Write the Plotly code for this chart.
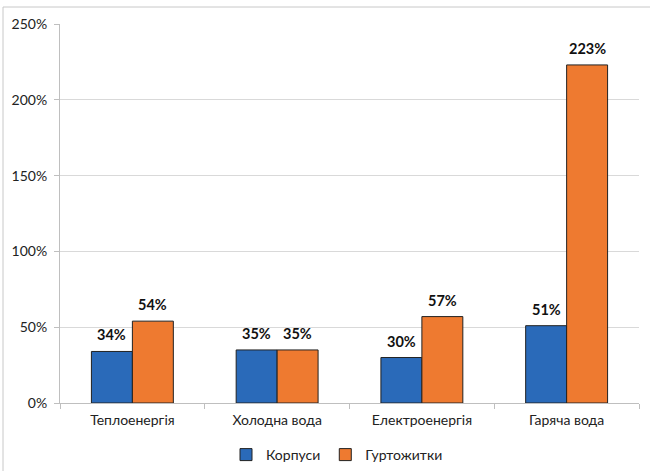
import plotly.graph_objects as go

categories = ["Теплоенергія", "Холодна вода", "Електроенергія", "Гаряча вода"]
korpusy = [34, 35, 30, 51]
hurtozhytky = [54, 35, 57, 223]
series_names = ["Корпуси", "Гуртожитки"]
tick_vals = [0, 50, 100, 150, 200, 250]
tick_text = ["0%", "50%", "100%", "150%", "200%", "250%"]

W, H = 650, 471
L, R, T, B = 60, 11, 24, 68
pw, ph = W - L - R, H - T - B

FONT = "Lato, Open Sans, sans-serif"
BARGAP = 0.434

fig = go.Figure()
colors = ["#2A6AB9", "#EE7A30"]
series = [korpusy, hurtozhytky]
for name, vals, color in zip(series_names, series, colors):
    fig.add_trace(go.Bar(
        x=categories, y=vals, name=name,
        marker=dict(color=color, line=dict(color="#222222", width=1)),
    ))

# data labels above bars
cat_px = pw / len(categories)
bar_px = cat_px * (1 - BARGAP) / 2
for i, vals in enumerate(series):
    off = (i - 0.5) * bar_px
    for c, v in zip(categories, vals):
        fig.add_annotation(x=c, y=v, text=f"<b>{v}%</b>", showarrow=False,
                           xshift=off, yshift=6, yanchor="bottom",
                           font=dict(family=FONT, size=14.5, color="#111111"))

def px_x(px):
    return (px - L) / pw

def px_y(py):
    return (H - B - py) / ph

fig.add_shape(type="rect", xref="paper", yref="paper",
              x0=px_x(3), x1=px_x(700), y0=px_y(520), y1=px_y(7),
              line=dict(color="#C8C8C8", width=1), fillcolor="rgba(0,0,0,0)", layer="below")

fig.update_layout(
    width=W, height=H,
    margin=dict(l=L, r=R, t=T, b=B, autoexpand=False),
    paper_bgcolor="white", plot_bgcolor="white",
    barmode="group", bargap=BARGAP, bargroupgap=0,
    font=dict(family=FONT, size=14, color="#222222"),
    showlegend=True,
    legend=dict(orientation="h", xref="container", yref="container",
                x=226 / W, xanchor="left", y=1 - 455 / H, yanchor="middle",
                font=dict(family=FONT, size=14, color="#222222"), itemwidth=30,
                tracegroupgap=0),
    xaxis=dict(showline=True, linecolor="#BFBFBF", linewidth=1, automargin=False,
               ticks="outside", tickson="boundaries", ticklen=5, tickcolor="#BFBFBF",
               ticklabelstandoff=4,
               tickfont=dict(family=FONT, size=14, color="#222222"), showgrid=False),
    yaxis=dict(range=[0, 250], tickvals=tick_vals, ticktext=tick_text, automargin=False,
               showline=True, linecolor="#BFBFBF", linewidth=1,
               ticks="outside", ticklen=5, tickcolor="#BFBFBF", ticklabelstandoff=4,
               showgrid=True, gridcolor="#D9D9D9", gridwidth=1, zeroline=False,
               tickfont=dict(family=FONT, size=14, color="#222222")),
)

fig.write_html("out.html", config={"displayModeBar": False},
               post_script="document.body.style.margin='0';document.documentElement.style.overflow='hidden';")
